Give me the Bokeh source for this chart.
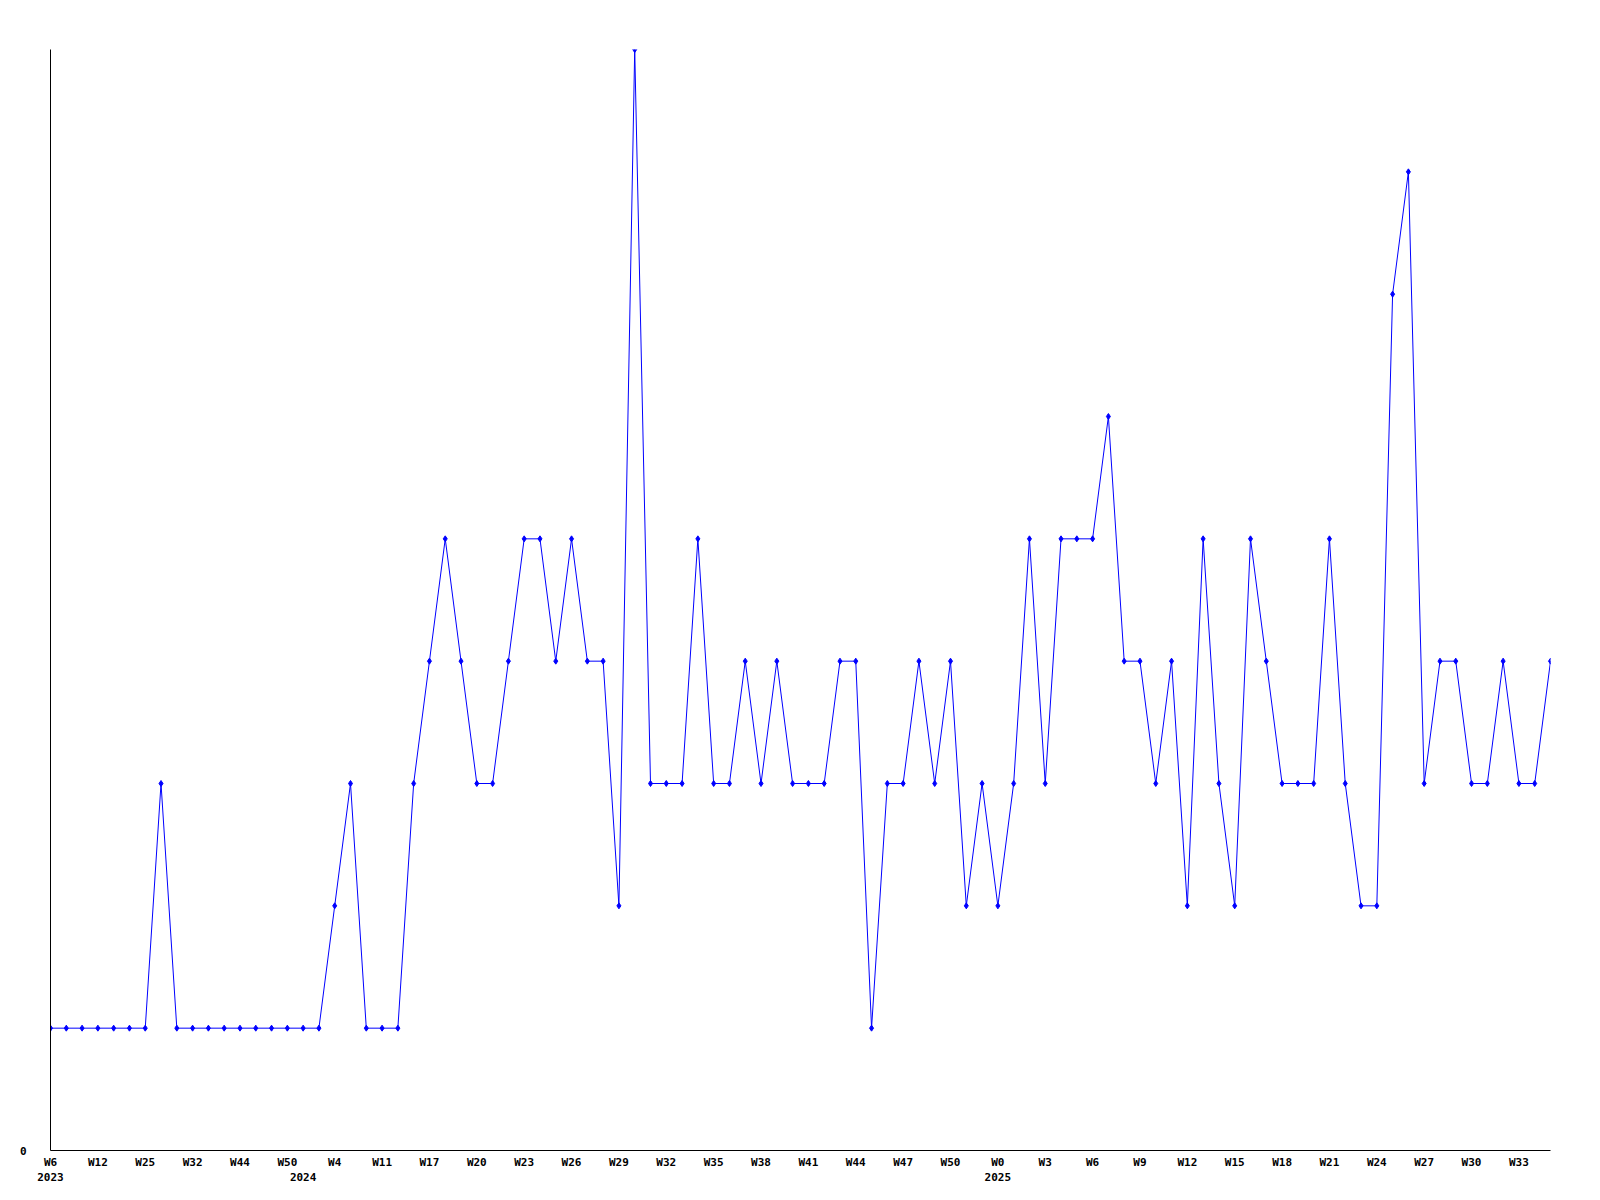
from bokeh.plotting import figure
from bokeh.models import FixedTicker, LinearAxis, Range1d
from bokeh.embed import file_html
from bokeh.resources import INLINE

# weekly counts (one point per week with data)
values = [1, 1, 1, 1, 1, 1, 1, 3, 1, 1, 1, 1, 1, 1, 1, 1,
          1, 1, 2, 3, 1, 1, 1, 3, 4, 5, 4, 3, 3, 4, 5, 5,
          4, 5, 4, 4, 2, 9, 3, 3, 3, 5, 3, 3, 4, 3, 4, 3,
          3, 3, 4, 4, 1, 3, 3, 4, 3, 4, 2, 3, 2, 3, 5, 3,
          5, 5, 5, 6, 4, 4, 3, 4, 2, 5, 3, 2, 5, 4, 3, 3,
          3, 5, 3, 2, 2, 7, 8, 3, 4, 4, 3, 3, 4, 3, 3, 4]

# labels shown for every third week
tick_labels = ["W6", "W12", "W25", "W32", "W44", "W50", "W4", "W11", "W17", "W20",
               "W23", "W26", "W29", "W32", "W35", "W38", "W41", "W44", "W47", "W50",
               "W0", "W3", "W6", "W9", "W12", "W15", "W18", "W21", "W24", "W27",
               "W30", "W33"]
label_step = 3

# years and the point at which each begins
years = ["2023", "2024", "2025"]
year_start = [0, 16, 60]

y_max = 9

x = list(range(len(values)))
tick_pos = [i * label_step for i in range(len(tick_labels))]

FONT = "DejaVu Sans Mono"

p = figure(width=1584, height=1200, output_backend="svg", toolbar_location=None,
           x_range=Range1d(0, len(values) - 1), y_range=Range1d(0, y_max),
           min_border_left=50, min_border_right=34, min_border_top=49,
           min_border_bottom=50)
p.outline_line_color = None
p.xgrid.visible = False
p.ygrid.visible = False
p.background_fill_color = "white"
p.border_fill_color = "white"

p.line(x, values, line_color="#0000ff", line_width=1)
p.scatter(x, values, marker="diamond", size=6, fill_color="#0000ff",
          line_color="#0000ff")

xa = p.xaxis[0]
xa.ticker = FixedTicker(ticks=tick_pos)
xa.major_label_overrides = {t: lab for t, lab in zip(tick_pos, tick_labels)}
xa.major_tick_out = 0
xa.major_tick_in = 0
xa.minor_tick_out = 0
xa.minor_tick_in = 0
xa.axis_line_color = "black"
xa.major_label_standoff = 5
xa.major_label_text_font = FONT
xa.major_label_text_font_style = "bold"
xa.major_label_text_font_size = "11px"
xa.major_label_text_color = "black"

ya = p.yaxis[0]
ya.ticker = FixedTicker(ticks=[0])
ya.major_tick_out = 0
ya.major_tick_in = 0
ya.minor_tick_out = 0
ya.minor_tick_in = 0
ya.axis_line_color = "black"
ya.major_label_standoff = 24
ya.major_label_text_font = FONT
ya.major_label_text_font_style = "bold"
ya.major_label_text_font_size = "11px"
ya.major_label_text_color = "black"

year_axis = LinearAxis(ticker=FixedTicker(ticks=year_start),
                       major_label_overrides={s: y for s, y in zip(year_start, years)},
                       axis_line_color=None, major_tick_line_color=None,
                       minor_tick_line_color=None, major_label_standoff=-5,
                       major_label_text_font=FONT,
                       major_label_text_font_style="bold",
                       major_label_text_font_size="11px",
                       major_label_text_color="black")
p.add_layout(year_axis, "below")

open("out.html", "w").write(file_html(p, INLINE))
